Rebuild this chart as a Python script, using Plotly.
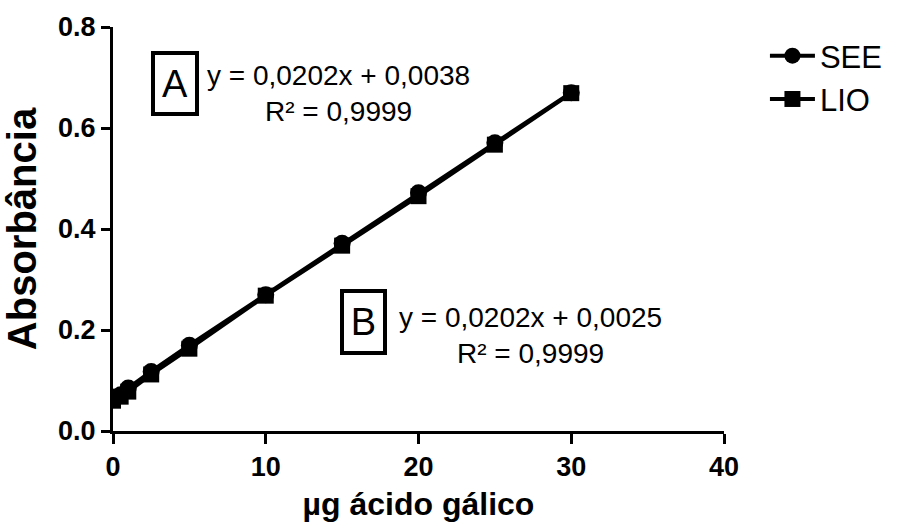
import plotly.graph_objects as go

# Concentração de ácido gálico (µg) e absorbâncias medidas
x_ug = [0, 0.5, 1, 2.5, 5, 10, 15, 20, 25, 30]
abs_see = [0.064, 0.072, 0.085, 0.118, 0.170, 0.270, 0.372, 0.472, 0.571, 0.670]
abs_lio = [0.060, 0.068, 0.078, 0.112, 0.163, 0.268, 0.367, 0.465, 0.567, 0.669]

series_names = ["SEE", "LIO"]
eq_a = ["y = 0,0202x + 0,0038", "R² = 0,9999"]
eq_b = ["y = 0,0202x + 0,0025", "R² = 0,9999"]

x_ticks = [0, 10, 20, 30, 40]
y_ticks = [0.0, 0.2, 0.4, 0.6, 0.8]

FONT = "Liberation Sans, Arial, sans-serif"

fig = go.Figure()
fig.add_trace(go.Scatter(
    x=x_ug, y=abs_see, name=series_names[0], mode="lines+markers",
    line=dict(color="black", width=4),
    marker=dict(symbol="circle", size=17, color="black"),
))
fig.add_trace(go.Scatter(
    x=x_ug, y=abs_lio, name=series_names[1], mode="lines+markers",
    line=dict(color="black", width=4),
    marker=dict(symbol="square", size=16, color="black"),
))

# Painel A / B com a equação da reta
box_style = dict(showarrow=False, bordercolor="black", borderwidth=4,
                 borderpad=0, bgcolor="white",
                 font=dict(family=FONT, size=38, color="black"))
fig.add_annotation(x=4.06, y=0.688, text="A", width=40, height=57, **box_style)
fig.add_annotation(x=16.43, y=0.215, text="B", width=39, height=58, **box_style)

eq_style = dict(showarrow=False, align="center",
                font=dict(family=FONT, size=28, color="black"))
fig.add_annotation(x=14.73, y=0.668, text="<br>".join(eq_a), **eq_style)
fig.add_annotation(x=27.35, y=0.190, text="<br>".join(eq_b), **eq_style)

axis_common = dict(
    showline=True, linecolor="black", linewidth=3,
    ticks="outside", tickcolor="black", tickwidth=3,
    showgrid=False, zeroline=False,
    tickfont=dict(family=FONT, size=27, color="black", weight="bold"),
)

fig.update_xaxes(
    range=[0, 40], tickvals=x_ticks, ticktext=[str(v) for v in x_ticks],
    ticklen=10,
    title=dict(text="µg ácido gálico", standoff=12,
               font=dict(family=FONT, size=32, color="black", weight="bold")),
    **axis_common,
)
fig.update_yaxes(
    range=[0, 0.8], tickvals=y_ticks, ticktext=[f"{v:.1f}" for v in y_ticks],
    ticklen=9,
    title=dict(text="Absorbância", standoff=14,
               font=dict(family=FONT, size=40, color="black", weight="bold")),
    **axis_common,
)

fig.update_layout(
    width=905, height=529,
    margin=dict(l=113, r=181, t=27, b=96),
    paper_bgcolor="white", plot_bgcolor="white",
    showlegend=True,
    legend=dict(x=1.067, y=0.995, xanchor="left", yanchor="top",
                font=dict(family=FONT, size=31, color="black"),
                bgcolor="rgba(0,0,0,0)", itemwidth=45, tracegroupgap=0),
)

fig.write_html("out.html")
